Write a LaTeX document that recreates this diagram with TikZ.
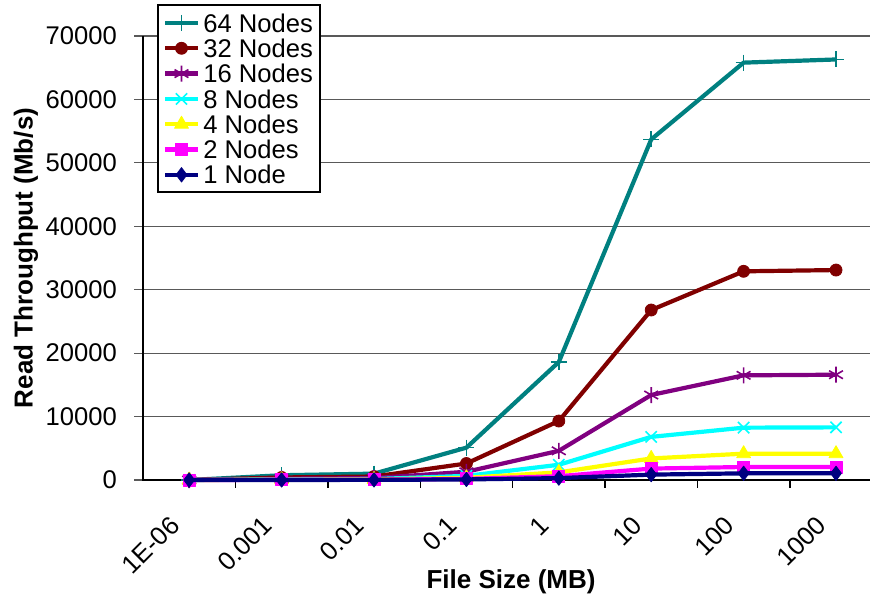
\documentclass[tikz,border=0pt]{standalone}
\usepackage{fontspec}
\setmainfont{Liberation Sans}
\usetikzlibrary{plotmarks}
\definecolor{c64}{RGB}{0,128,128}
\definecolor{c32}{RGB}{128,0,0}
\definecolor{c16}{RGB}{128,0,128}
\definecolor{c8}{RGB}{0,255,255}
\definecolor{c4}{RGB}{255,255,0}
\definecolor{c2}{RGB}{255,0,255}
\definecolor{c1}{RGB}{0,0,128}

\begin{document}
\begin{tikzpicture}[x=0.5pt,y=-0.5pt,
  ticklab/.style={font=\fontsize{12.8}{15}\selectfont},
  axtitle/.style={font=\fontsize{13}{15}\selectfont\bfseries},
  series/.style={line width=2.1pt, line join=round},
  s64/.style={series, color=c64, mark=+, mark size=4pt, mark options={line width=0.8pt}},
  s32/.style={series, color=c32, mark=*, mark size=3pt, mark options={line width=0.4pt}},
  s16/.style={series, color=c16, mark=asterisk, mark size=4pt, mark options={line width=0.8pt}},
  s8/.style={series, color=c8, mark=x, mark size=4pt, mark options={line width=0.8pt}},
  s4/.style={series, color=c4, mark=triangle*, mark size=4pt, mark options={line width=0.4pt}},
  s2/.style={series, color=c2, mark=square*, mark size=3pt, mark options={line width=0.4pt}},
  s1/.style={series, color=c1, mark=diamond*, mark size=3.6pt, mark options={line width=0.4pt}}]
  \useasboundingbox (0,0) rectangle (870,603);

  % grid and axes
  \foreach \v/\t in {0/0,63.4/10000,126.9/20000,190.3/30000,253.7/40000,317.1/50000,380.6/60000,444/70000} {
    \draw[black!65, line width=0.6pt] (134,480-\v) -- (870,480-\v);
    \node[ticklab, anchor=east] at (124,480-\v) {\t};
  }
  \draw[black, line width=0.7pt] (143,36) -- (143,480) -- (870,480);
  \foreach \i/\t in {1/1E-06,2/0.001,3/0.01,4/0.1,5/1,6/10,7/100,8/1000} {
    \draw[black, line width=0.7pt] (143+92.4*\i,480) -- (143+92.4*\i,488);
    \node[ticklab, anchor=east, rotate=45] at (143+92.4*\i-55.5,516) {\t};
  }
  \node[axtitle] (xlab) at (511,582) {File Size (MB)};
  \node[axtitle, rotate=90] (ylab) at (26,258) {Read Throughput (Mb/s)};

  % data
  \begin{scope}[shift={(143,480)}, x=46.2pt, y=3.1714pt]
    \draw[s64] plot coordinates {(0.5,0) (1.5,0.75) (2.5,1.0) (3.5,5.1) (4.5,18.6) (5.5,53.7) (6.5,65.8) (7.5,66.3)};
    \draw[s32] plot coordinates {(0.5,0) (1.5,0.4) (2.5,0.55) (3.5,2.6) (4.5,9.3) (5.5,26.8) (6.5,32.9) (7.5,33.1)};
    \draw[s16] plot coordinates {(0.5,0) (1.5,0.2) (2.5,0.3) (3.5,1.3) (4.5,4.6) (5.5,13.4) (6.5,16.5) (7.5,16.6)};
    \draw[s8] plot coordinates {(0.5,0) (1.5,0.1) (2.5,0.15) (3.5,0.65) (4.5,2.4) (5.5,6.8) (6.5,8.25) (7.5,8.3)};
    \draw[s4] plot coordinates {(0.5,0) (1.5,0.05) (2.5,0.08) (3.5,0.35) (4.5,1.2) (5.5,3.4) (6.5,4.15) (7.5,4.15)};
    \draw[s2] plot coordinates {(0.5,0) (1.5,0.03) (2.5,0.04) (3.5,0.18) (4.5,0.6) (5.5,1.8) (6.5,2.05) (7.5,2.05)};
    \draw[s1] plot coordinates {(0.5,0) (1.5,0.01) (2.5,0.02) (3.5,0.09) (4.5,0.3) (5.5,0.85) (6.5,1.05) (7.5,1.05)};
  \end{scope}

  % legend
  \draw[black, fill=white, line width=0.7pt] (158,5) rectangle (320,192);
  \foreach \s/\t [count=\k] in {64/64 Nodes,32/32 Nodes,16/16 Nodes,8/8 Nodes,4/4 Nodes,2/2 Nodes,1/1 Node} {
    \draw[s\s, mark indices={2}] plot coordinates {(165,-2.3+25.3*\k) (181.5,-2.3+25.3*\k) (198,-2.3+25.3*\k)};
    \node[ticklab, anchor=west, inner sep=0pt] (leg\s) at (203,-2.3+25.3*\k) {\t};
  }
\end{tikzpicture}
\end{document}
